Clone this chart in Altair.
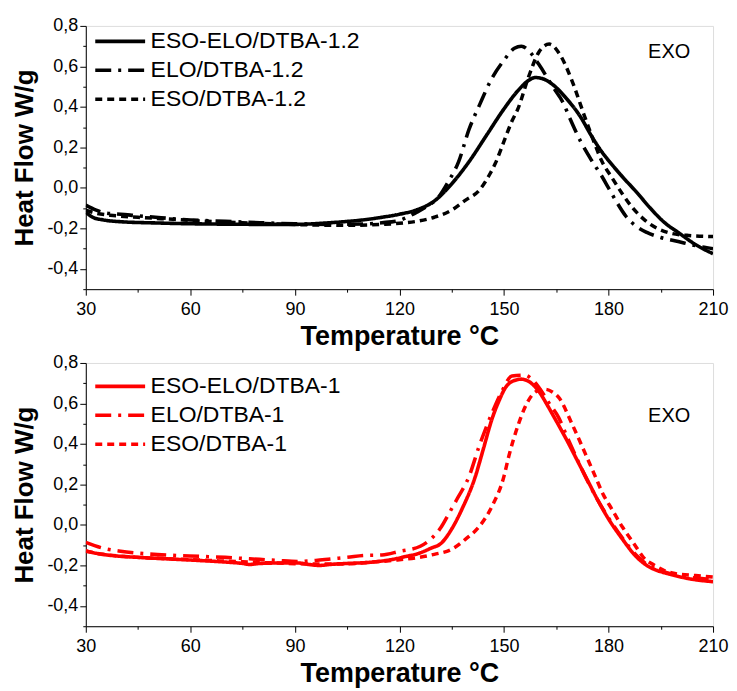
import altair as alt
import pandas as pd

FONT = "Liberation Sans"

# ---------------- top panel (black, DTBA-1.2) ----------------
top_names = ["ESO-ELO/DTBA-1.2", "ELO/DTBA-1.2", "ESO/DTBA-1.2"]

t_a12 = [30, 32, 35, 40, 50, 60, 70, 80, 90, 100, 110, 115, 120, 125, 130, 135, 140, 145, 150, 154, 157, 159, 161, 164, 168, 172, 175, 178, 181, 184, 188, 192, 196, 200, 205, 210]
v_a12 = [-0.12, -0.145, -0.158, -0.167, -0.173, -0.177, -0.179, -0.18, -0.18, -0.172, -0.157, -0.145, -0.13, -0.108, -0.065, 0.02, 0.13, 0.26, 0.39, 0.48, 0.53, 0.545, 0.54, 0.51, 0.44, 0.35, 0.26, 0.18, 0.115, 0.055, -0.02, -0.10, -0.17, -0.22, -0.28, -0.325]

t_b12 = [30, 33, 36, 40, 45, 50, 55, 60, 70, 80, 90, 100, 110, 115, 120, 125, 128, 131, 134, 137, 140, 143, 146.5, 150, 153, 155, 157, 160, 164, 167, 169, 172, 175, 178, 180, 182, 185, 188, 191, 195, 200, 205, 210]
v_b12 = [-0.085, -0.11, -0.125, -0.13, -0.138, -0.145, -0.152, -0.158, -0.165, -0.172, -0.177, -0.18, -0.178, -0.172, -0.16, -0.12, -0.09, -0.05, 0.03, 0.13, 0.29, 0.41, 0.54, 0.63, 0.69, 0.70, 0.68, 0.61, 0.50, 0.42, 0.34, 0.23, 0.14, 0.06, 0.0, -0.06, -0.14, -0.19, -0.22, -0.245, -0.265, -0.285, -0.30]

t_c12 = [30, 33, 37, 45, 55, 65, 75, 85, 95, 105, 115, 120, 125, 130, 135, 139, 143, 146, 147.5, 150, 152.3, 154, 157, 160, 163, 166, 169.5, 173, 176, 178, 181, 184, 187, 190.5, 194, 197, 203, 210]
v_c12 = [-0.11, -0.125, -0.135, -0.145, -0.155, -0.165, -0.172, -0.178, -0.183, -0.185, -0.18, -0.175, -0.165, -0.145, -0.11, -0.06, -0.01, 0.07, 0.12, 0.23, 0.33, 0.39, 0.545, 0.67, 0.71, 0.66, 0.53, 0.36, 0.22, 0.135, 0.05, -0.03, -0.10, -0.16, -0.20, -0.22, -0.235, -0.24]

# ---------------- bottom panel (red, DTBA-1) ----------------
bot_names = ["ESO-ELO/DTBA-1", "ELO/DTBA-1", "ESO/DTBA-1"]

t_a1 = [30, 33, 37, 45, 53, 62, 70, 75, 77, 80, 85, 91, 94, 97, 100, 105, 111, 118, 122, 125.6, 129, 132, 135, 138, 141.8, 144, 146.5, 148.5, 150.5, 152.5, 155, 157, 160, 162.5, 164.8, 168, 171, 174, 177, 180, 184, 187.6, 191, 194, 197, 203, 210]
v_a1 = [-0.127, -0.14, -0.15, -0.16, -0.167, -0.175, -0.183, -0.19, -0.195, -0.19, -0.188, -0.188, -0.195, -0.2, -0.195, -0.19, -0.185, -0.17, -0.155, -0.14, -0.115, -0.09, -0.02, 0.08, 0.24, 0.37, 0.52, 0.61, 0.68, 0.71, 0.72, 0.71, 0.66, 0.59, 0.52, 0.42, 0.32, 0.22, 0.12, 0.03, -0.07, -0.15, -0.20, -0.225, -0.24, -0.265, -0.28]

t_b1 = [30, 35, 40, 45.5, 55, 62.6, 70, 77, 85, 91, 96, 100.5, 105, 110, 115, 120, 126, 129, 132, 134, 136.5, 140, 142.8, 146.5, 149.4, 152.3, 156, 158, 160, 163, 165.7, 168, 171.4, 174.2, 177, 180, 184, 188, 191, 195, 200, 205, 210]
v_b1 = [-0.086, -0.115, -0.13, -0.14, -0.15, -0.155, -0.16, -0.167, -0.175, -0.18, -0.175, -0.167, -0.16, -0.15, -0.148, -0.13, -0.105, -0.07, -0.01, 0.05, 0.127, 0.24, 0.385, 0.55, 0.66, 0.735, 0.74, 0.72, 0.68, 0.60, 0.53, 0.44, 0.31, 0.21, 0.12, 0.035, -0.065, -0.15, -0.195, -0.225, -0.25, -0.262, -0.27]

t_c1 = [30, 35, 45, 55, 65, 75, 85, 95, 105, 111, 118, 125.6, 130, 135, 139, 142.8, 146.5, 150, 151.4, 154.2, 156, 158, 160, 161.9, 164, 165.7, 169.5, 173.4, 176.2, 178.5, 180.9, 184, 187.6, 190, 193.3, 196, 199, 205, 210]
v_c1 = [-0.13, -0.145, -0.16, -0.168, -0.175, -0.182, -0.188, -0.193, -0.192, -0.185, -0.175, -0.16, -0.145, -0.12, -0.07, -0.01, 0.09, 0.24, 0.34, 0.50, 0.58, 0.64, 0.665, 0.67, 0.655, 0.63, 0.50, 0.35, 0.24, 0.15, 0.08, -0.01, -0.10, -0.16, -0.20, -0.225, -0.24, -0.25, -0.257]

# ---------------- axes ----------------
x_major_ticks = [30, 60, 90, 120, 150, 180, 210]
x_minor_ticks = [45, 75, 105, 135, 165, 195]
y_major_ticks = [-0.4, -0.2, 0.0, 0.2, 0.4, 0.6, 0.8]
y_minor_ticks = [-0.5, -0.3, -0.1, 0.1, 0.3, 0.5, 0.7]
exo_label = ["EXO"]


def frame(names, ts, vs):
    rows = []
    for n, t, v in zip(names, ts, vs):
        for a, b in zip(t, v):
            rows.append({"series": n, "T": a, "v": b})
    return pd.DataFrame(rows)


common = dict(grid=False, domainColor="black", tickColor="black", labelColor="black",
              titleColor="black", labelFont=FONT, titleFont=FONT)

xaxis = alt.Axis(
    title="Temperature °C", values=x_major_ticks, format="d", orient="bottom",
    tickSize=6, labelOverlap=False, labelFlush=False, labelFontSize=18, labelPadding=5,
    titleFontSize=27, titleFontWeight="bold", titlePadding=5, **common,
)
yaxis = alt.Axis(
    title="Heat Flow W/g", values=y_major_ticks, format=".1f", orient="left",
    tickSize=6, labelOverlap=False, labelFontSize=18, labelPadding=2,
    titleFontSize=26, titleFontWeight="bold", titlePadding=9, **common,
)
xaxis_minor = alt.Axis(title=None, values=x_minor_ticks, orient="bottom", labels=False,
                       tickSize=3, domain=False, grid=False, tickColor="black")
yaxis_minor = alt.Axis(title=None, values=y_minor_ticks, orient="left", labels=False,
                       tickSize=3, domain=False, grid=False, tickColor="black")

xscale = alt.Scale(domain=[30, 210], nice=False)
yscale = alt.Scale(domain=[-0.5, 0.8], nice=False)


def panel(names, ts, vs, color, legend_y, exo_T, exo_v):
    df = frame(names, ts, vs)
    lines = alt.Chart(df).mark_line(color=color, interpolate="monotone", clip=True).encode(
        x=alt.X("T:Q", scale=xscale, axis=xaxis),
        y=alt.Y("v:Q", scale=yscale, axis=yaxis),
        strokeDash=alt.StrokeDash(
            "series:N",
            scale=alt.Scale(domain=names, range=[[1, 0], [16, 7, 3, 7], [7, 5]]),
            legend=alt.Legend(
                title=None, orient="none", legendX=-2, legendY=legend_y,
                symbolType="M0,0H10", symbolSize=100, symbolStrokeWidth=3.2,
                symbolStrokeColor=color, symbolFillColor="transparent",
                labelFontSize=23, labelFont=FONT, labelColor="black",
                labelLimit=400, labelOffset=44, rowPadding=5, padding=0,
            ),
        ),
        strokeWidth=alt.StrokeWidth(
            "series:N", scale=alt.Scale(domain=names, range=[3.6, 3.5, 3.0]), legend=None
        ),
    )
    exo = alt.Chart(pd.DataFrame({"T": [exo_T], "v": [exo_v], "label": exo_label})).mark_text(
        fontSize=20, font=FONT, color="black"
    ).encode(
        x=alt.X("T:Q", scale=xscale, axis=xaxis_minor),
        y=alt.Y("v:Q", scale=yscale, axis=yaxis_minor),
        text="label:N",
    )
    return (
        alt.layer(lines, exo)
        .resolve_axis(x="independent", y="independent")
        .properties(width=629, height=264)
    )


top = panel(top_names, [t_a12, t_b12, t_c12], [v_a12, v_b12, v_c12], "black", 4, 197.4, 0.672)
bottom = panel(bot_names, [t_a1, t_b1, t_c1], [v_a1, v_b1, v_c1], "#ff0000", 12, 197.4, 0.537)

chart = (
    alt.vconcat(top, bottom, spacing=3)
    .resolve_scale(strokeDash="independent", strokeWidth="independent")
    .resolve_legend(strokeDash="independent")
    .properties(padding={"left": 3, "top": 7, "right": 0, "bottom": 0})
    .configure_view(stroke=None)
    .configure(locale={"number": {"decimal": ",", "thousands": ".", "grouping": [3],
                                  "currency": ["", ""], "minus": "-"}})
)

chart.save("out.html", embed_options={"renderer": "svg", "actions": False})
